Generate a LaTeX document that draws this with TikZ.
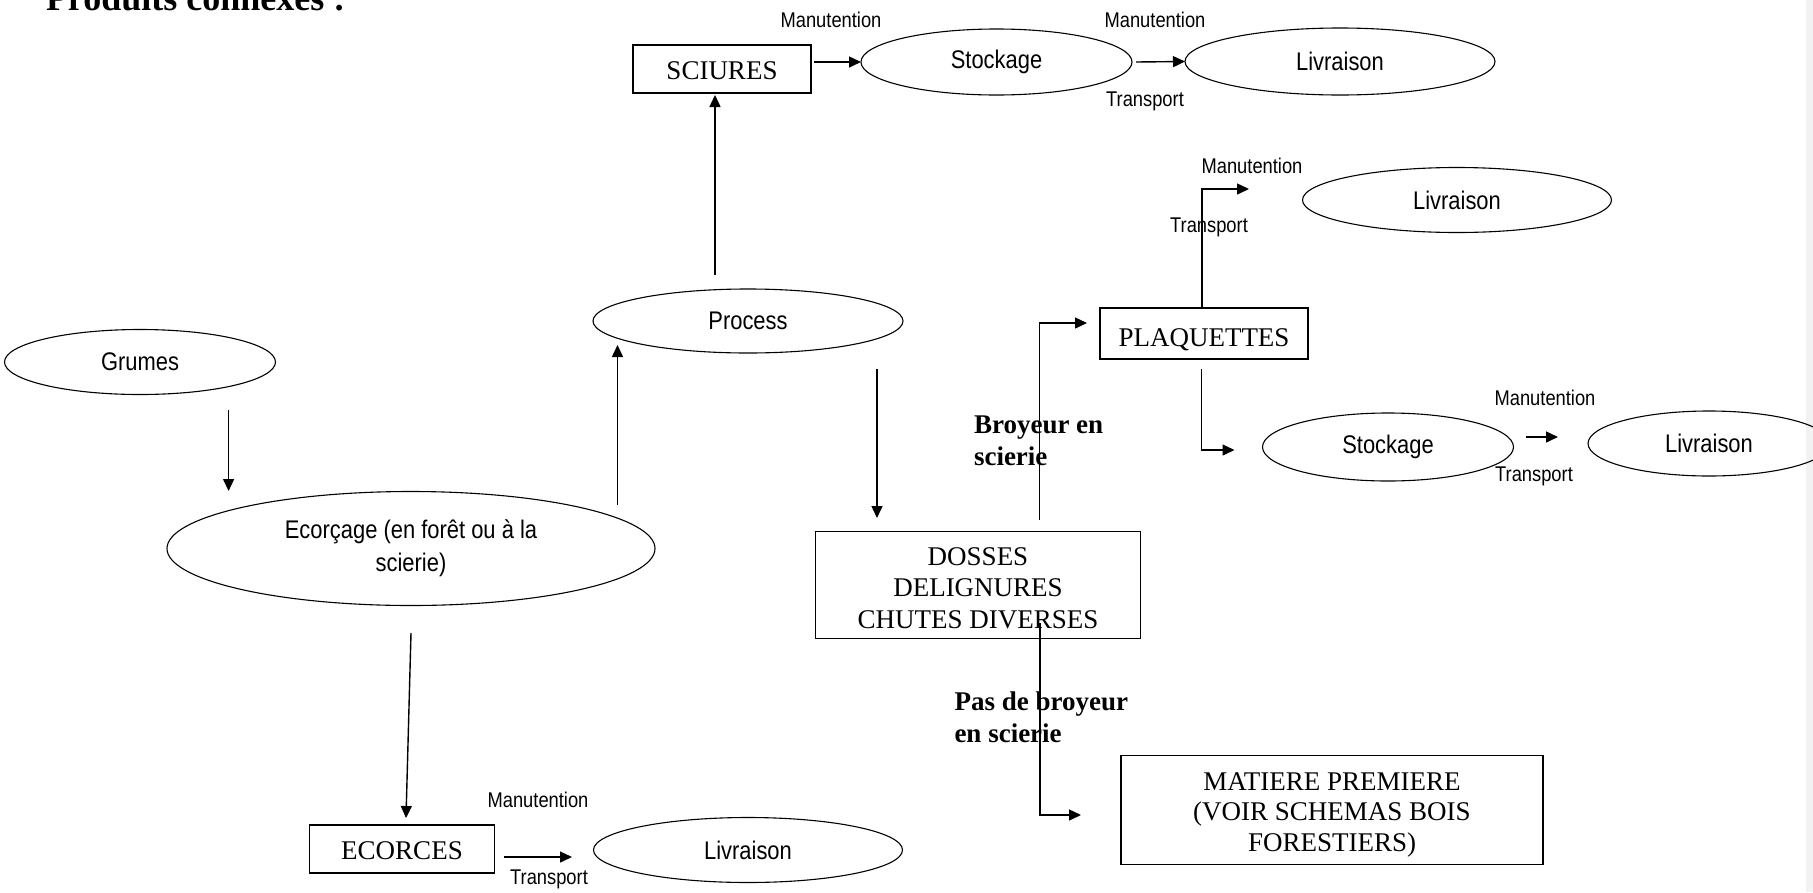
\documentclass[tikz,border=0pt]{standalone}
\usepackage{fontspec}
\setmainfont{Liberation Serif}
\setsansfont[FakeStretch=0.86]{Liberation Sans}
\usetikzlibrary{arrows.meta, shapes.geometric}

\tikzset{
  base/.style={inner sep=0pt, outer sep=0pt},
  oval/.style={base, ellipse, draw, line width=1.1pt, align=center,
    font=\sffamily\fontsize{25.5}{33}\selectfont},
  boxnode/.style={base, rectangle, draw, line width=1.8pt, align=center,
    font=\fontsize{27}{30.5}\selectfont},
  smalltxt/.style={base, font=\sffamily\fontsize{21.3}{24}\selectfont},
  boldtxt/.style={base, align=left, anchor=north west,
    font=\bfseries\fontsize{27}{31.5}\selectfont},
  arr/.style={line width=1.4pt, -{Triangle[length=12pt, width=11pt]}},
}
% invisible strut that lowers the first line of a box label
\newcommand{\lowerby}[1]{\rule{0pt}{\dimexpr 18pt+2\dimexpr #1\relax\relax}}

\begin{document}
\begin{tikzpicture}[x=1pt, y=-1pt]
  \useasboundingbox (0,0) rectangle (1813,892);
  \clip (0,0) rectangle (1813,892);
  \fill[white] (0,0) rectangle (1813,892);
  \fill[black!5] (1806,0) rectangle (1813,892);

  % title, partly above the page edge
  \node[base, anchor=base west, font=\bfseries\fontsize{36}{40}\selectfont]
    (title) at (46,10) {Produits connexes :};

  % main chain
  \node[oval, minimum width=271pt, minimum height=65pt] (grumes) at (140,362) {Grumes};
  \node[oval, minimum width=488pt, minimum height=114pt] (ecorcage) at (411,548.5)
    {Ecorçage (en forêt ou à la\\scierie)};
  \node[oval, minimum width=310pt, minimum height=64pt] (process) at (748,321) {Process};

  % sawdust branch
  \node[boxnode, minimum width=178pt, minimum height=48pt, text height=20.4pt, text depth=0pt]
    (sciures) at (722,69) {SCIURES};
  \node[oval, minimum width=271pt, minimum height=66pt] (stockA) at (996.5,62) {Stockage};
  \node[oval, minimum width=310pt, minimum height=67pt] (livrA) at (1340,61.5) {Livraison};

  % slabs and chips
  \node[boxnode, minimum width=325pt, minimum height=107pt,
    font=\fontsize{27}{31.8}\selectfont] (dosses) at (978,585)
    {\lowerby{3pt}DOSSES\\DELIGNURES\\CHUTES DIVERSES};
  \node[boxnode, minimum width=208pt, minimum height=51pt, text height=25pt, text depth=0pt]
    (plaq) at (1204,333.5) {PLAQUETTES};
  \node[oval, minimum width=309pt, minimum height=65pt] (livrB) at (1457,200) {Livraison};
  \node[oval, minimum width=251pt, minimum height=68pt] (stockB) at (1388,447) {Stockage};
  \node[oval, minimum width=242pt, minimum height=65pt] (livrC) at (1709,443.5) {Livraison};
  \node[boxnode, minimum width=422pt, minimum height=109pt] (matiere) at (1332,810)
    {\lowerby{4.5pt}MATIERE PREMIERE\\(VOIR SCHEMAS BOIS\\FORESTIERS)};

  % bark branch
  \node[boxnode, minimum width=185pt, minimum height=48pt, text height=20.4pt, text depth=0pt]
    (ecorces) at (402,849) {ECORCES};
  \node[oval, minimum width=309pt, minimum height=65pt] (livrD) at (748,850) {Livraison};

  % handling / transport labels
  \node[smalltxt] (manA) at (831,20) {Manutention};
  \node[smalltxt] (manB) at (1155,19.5) {Manutention};
  \node[smalltxt] (trA) at (1145,101) {Transport};
  \node[smalltxt] (manC) at (1252,166) {Manutention};
  \node[smalltxt] (trB) at (1209,227) {Transport};
  \node[smalltxt] (manD) at (1545,398) {Manutention};
  \node[smalltxt] (trC) at (1534,476) {Transport};
  \node[smalltxt] (manE) at (538,800) {Manutention};
  \node[smalltxt] (trD) at (549,879) {Transport};

  % branch conditions
  \node[boldtxt] (broy) at (974,416) {Broyeur en\\scierie};
  \node[boldtxt] (pasbroy) at (954.5,692) {Pas de broyeur\\en scierie};

  % connector end points
  \coordinate (gA) at (228.6,410);   \coordinate (gB) at (228.6,491);
  \coordinate (eA) at (617.5,505);   \coordinate (eB) at (617.5,345);
  \coordinate (pA) at (715,275);     \coordinate (pB) at (715,95);
  \coordinate (dA) at (877,369);     \coordinate (dB) at (877,518);
  \coordinate (bA) at (1039.5,520);  \coordinate (bB) at (1039.5,323);
  \coordinate (bC) at (1087,323);
  \coordinate (lA) at (1202,189);    \coordinate (lB) at (1249,189);
  \coordinate (sA) at (1201.6,369);  \coordinate (sB) at (1201.6,450);
  \coordinate (sC) at (1234.5,450);
  \coordinate (mA) at (1040,623);    \coordinate (mB) at (1040,815);
  \coordinate (mC) at (1081,815);
  \coordinate (kA) at (411,633);     \coordinate (kB) at (406,818);
  \coordinate (cA) at (504,857);     \coordinate (cB) at (572,857);
  \coordinate (tA) at (1526,437);    \coordinate (tB) at (1558,437);

  % connectors
  \draw[arr] (gA) -- (gB);
  \draw[arr] (eA) -- (eB);
  \draw[arr] (pA) -- (pB);
  \draw[arr] (dA) -- (dB);
  \draw[arr] ([xshift=3pt]sciures.east |- stockA.west) -- (stockA.west);
  \draw[arr] ([xshift=4pt]stockA.east) -- (livrA.west);
  \draw[arr] (bA) -- (bB) -- (bC);
  \draw[arr] (plaq.north -| lA) -- (lA) -- (lB);
  \draw[arr] (sA) -- (sB) -- (sC);
  \draw[arr] (tA) -- (tB);
  \draw[arr] (mA) -- (mB) -- (mC);
  \draw[arr] (kA) -- (kB);
  \draw[arr] (cA) -- (cB);
\end{tikzpicture}
\end{document}
